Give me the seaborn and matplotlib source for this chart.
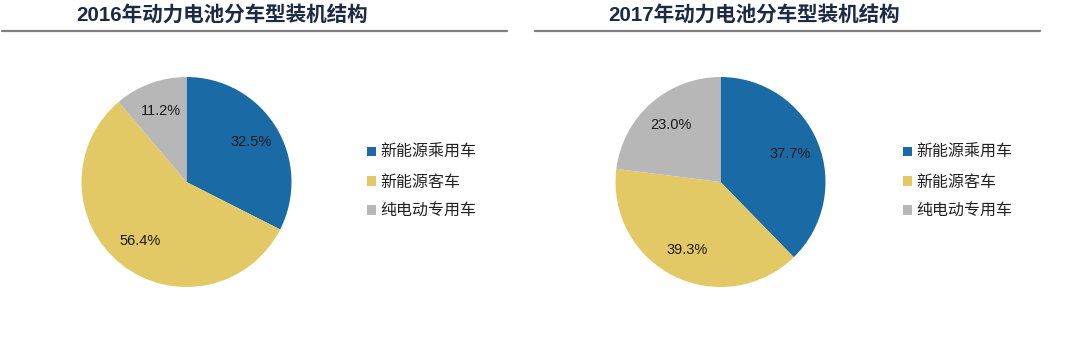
import matplotlib
matplotlib.use("Agg")
import matplotlib.pyplot as plt
import seaborn as sns
from matplotlib.lines import Line2D

sns.set_theme(style="white")
plt.rcParams["font.family"] = ["Liberation Sans", "Noto Sans CJK SC", "DejaVu Sans"]

categories = ["新能源乘用车", "新能源客车", "纯电动专用车"]
share_2016 = [32.5, 56.4, 11.2]
share_2017 = [37.7, 39.3, 23.0]
titles = ["2016年动力电池分车型装机结构", "2017年动力电池分车型装机结构"]
colors = sns.color_palette(["#1a6aa5", "#e3c965", "#b7b7b7"])

W, H = 1080, 339
fig = plt.figure(figsize=(W / 100, H / 100), dpi=100)

def px_box(cx, cy, r):
    # axes box (figure fraction) for a pie of radius r centred at pixel (cx, cy)
    return [(cx - r) / W, 1 - (cy + r) / H, 2 * r / W, 2 * r / H]

def value_label(values):
    # show the stated share itself rather than the renormalised percentage
    total = sum(values)
    return lambda pct: f"{pct * total / 100:.1f}%"

panels = [
    dict(data=share_2016, title=titles[0], cx=186.5, cy=182, title_x=222,
         line=(2, 507), legend_x=367),
    dict(data=share_2017, title=titles[1], cx=720.5, cy=182, title_x=754,
         line=(535, 1040), legend_x=903),
]

for p in panels:
    ax = fig.add_axes(px_box(p["cx"], p["cy"], 105))
    wedges, texts, autotexts = ax.pie(
        p["data"], colors=colors, startangle=90, counterclock=False,
        autopct=value_label(p["data"]), pctdistance=0.72,
        wedgeprops=dict(linewidth=0),
        textprops=dict(fontsize=10.5, color="#1a1a1a", family=["Liberation Sans"]),
    )
    ax.set_xlim(-1, 1)
    ax.set_ylim(-1, 1)
    ax.set_aspect("equal")
    ax.axis("off")

    fig.text(p["title_x"] / W, 1 - 15 / H, p["title"], ha="center", va="center",
             fontsize=14.8, fontweight="bold", color="#1b2a45",
             family=["Liberation Sans", "Noto Sans CJK SC"])
    fig.add_artist(Line2D([p["line"][0] / W, p["line"][1] / W],
                          [1 - 31 / H, 1 - 31 / H], transform=fig.transFigure,
                          color="#7f7f7f", linewidth=1.6))

    leg = fig.legend(
        wedges, categories, loc="center left",
        bbox_to_anchor=(p["legend_x"] / W, 1 - 182 / H),
        frameon=False, handlelength=0.55, handleheight=0.55,
        handletextpad=0.3, labelspacing=0.78, borderaxespad=0, borderpad=0,
        prop=dict(family=["Noto Sans CJK SC"], size=11.5),
    )
    for t in leg.get_texts():
        t.set_color("#222222")

fig.savefig("out.png", dpi=100, facecolor="white")
